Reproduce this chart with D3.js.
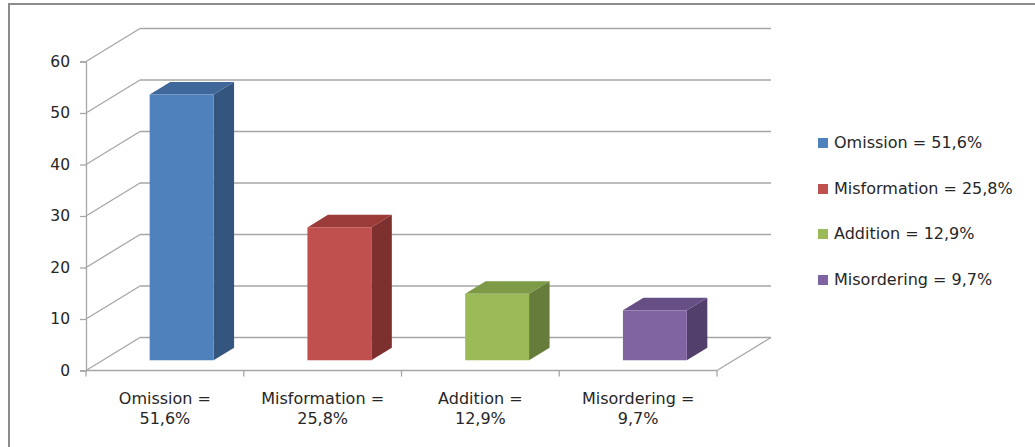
<!DOCTYPE html>
<html>
<head>
<meta charset="utf-8">
<script src="https://cdn.jsdelivr.net/npm/d3@7"></script>
<style>
  html, body { margin: 0; padding: 0; background: #fff; }
  svg { display: block; }
  text { font-family: "DejaVu Sans", Verdana, sans-serif; fill: #262626; }
</style>
</head>
<body>
<svg id="chart" width="1035" height="447"></svg>
<script>
// ---- data ----
const categories = ["Omission", "Misformation", "Addition", "Misordering"];
const labelLines = [["Omission =", "51,6%"], ["Misformation =", "25,8%"], ["Addition =", "12,9%"], ["Misordering =", "9,7%"]];
const values = [51.6, 25.8, 12.9, 9.7];
const legendLabels = ["Omission = 51,6%", "Misformation = 25,8%", "Addition = 12,9%", "Misordering = 9,7%"];
const yTicks = [0, 10, 20, 30, 40, 50, 60];
const frontColors = ["#4F81BD", "#C0504D", "#9BBB59", "#8064A2"];
const sideColors  = ["#34557D", "#7E302E", "#657C3A", "#533F6C"];
const topColors   = ["#3F679A", "#9A3B38", "#7D9A46", "#664F84"];

// ---- layout ----
const svg = d3.select("#chart");
const x0 = 86, x1 = 717;
const depth = { dx: 54, dy: -33 };
const barFront = 0.31, barBack = 0.69;
const gridColor = "#A6A6A6";

const x = d3.scaleBand().domain(categories).range([x0, x1]).paddingInner(0).paddingOuter(0);
const y = d3.scaleLinear().domain([0, 60]).range([370.5, 61.5]);

// outer frame
svg.append("rect").attr("x", 9).attr("y", 4).attr("width", 1040).attr("height", 460)
  .attr("fill", "none").attr("stroke", "#8C8C8C").attr("stroke-width", 2);

const g = svg.append("g");

// back wall gridlines + left wall diagonals
yTicks.forEach(t => {
  const yy = y(t);
  g.append("line")
    .attr("x1", x0 + depth.dx).attr("x2", x1 + depth.dx)
    .attr("y1", yy + depth.dy).attr("y2", yy + depth.dy)
    .attr("stroke", gridColor).attr("stroke-width", 1.3);
  g.append("line")
    .attr("x1", x0).attr("y1", yy)
    .attr("x2", x0 + depth.dx).attr("y2", yy + depth.dy)
    .attr("stroke", gridColor).attr("stroke-width", 1.3);
});
// floor right diagonal
g.append("line")
  .attr("x1", x1).attr("y1", y(0))
  .attr("x2", x1 + depth.dx).attr("y2", y(0) + depth.dy)
  .attr("stroke", gridColor).attr("stroke-width", 1.3);

// bars
const bw = x.bandwidth() * 0.405;
categories.forEach((c, i) => {
  const cx = x(c) + x.bandwidth() / 2;
  const fx = cx - bw / 2 + depth.dx * barFront;
  const fyTop = y(values[i]) + depth.dy * barFront;
  const fyBot = y(0) + depth.dy * barFront;
  const ddx = depth.dx * (barBack - barFront);
  const ddy = depth.dy * (barBack - barFront);
  g.append("path")
    .attr("d", `M${fx + bw},${fyTop} L${fx + bw + ddx},${fyTop + ddy} L${fx + bw + ddx},${fyBot + ddy} L${fx + bw},${fyBot} Z`)
    .attr("fill", sideColors[i]);
  g.append("path")
    .attr("d", `M${fx},${fyTop} L${fx + ddx},${fyTop + ddy} L${fx + bw + ddx},${fyTop + ddy} L${fx + bw},${fyTop} Z`)
    .attr("fill", topColors[i]);
  g.append("rect")
    .attr("x", fx).attr("y", fyTop).attr("width", bw).attr("height", fyBot - fyTop)
    .attr("fill", frontColors[i]);
});

// front axes
const yAxis = d3.axisLeft(y).tickValues(yTicks).tickSize(6).tickPadding(10);
const ya = svg.append("g").attr("transform", `translate(${x0},0)`).call(yAxis);
ya.select(".domain").attr("stroke", gridColor).attr("stroke-width", 1.3);
ya.selectAll(".tick line").attr("stroke", gridColor).attr("stroke-width", 1.3);
ya.selectAll("text").attr("font-size", "15.5px").attr("font-family", "DejaVu Sans").attr("fill", "#262626");

const xa = svg.append("g").attr("transform", `translate(0,${y(0)})`);
xa.append("line").attr("x1", x0).attr("x2", x1).attr("y1", 0).attr("y2", 0)
  .attr("stroke", gridColor).attr("stroke-width", 1.3);
const bounds = categories.map(c => x(c)).concat([x1]);
xa.selectAll("line.tk").data(bounds).enter().append("line").attr("class", "tk")
  .attr("x1", d => d).attr("x2", d => d).attr("y1", 0).attr("y2", 6)
  .attr("stroke", gridColor).attr("stroke-width", 1.3);

categories.forEach((c, i) => {
  const t = svg.append("text")
    .attr("x", x(c) + x.bandwidth() / 2).attr("y", 404)
    .attr("text-anchor", "middle").attr("font-size", "16px");
  labelLines[i].forEach((ln, k) => {
    t.append("tspan").attr("x", x(c) + x.bandwidth() / 2).attr("dy", k === 0 ? 0 : 20).text(ln);
  });
});

// legend
const legY = [148, 194, 239, 285];
legendLabels.forEach((l, i) => {
  svg.append("rect").attr("x", 818).attr("y", legY[i] - 10).attr("width", 10).attr("height", 10)
    .attr("fill", frontColors[i]);
  svg.append("text").attr("x", 834).attr("y", legY[i]).attr("font-size", "16px").text(l);
});
</script>
</body>
</html>
